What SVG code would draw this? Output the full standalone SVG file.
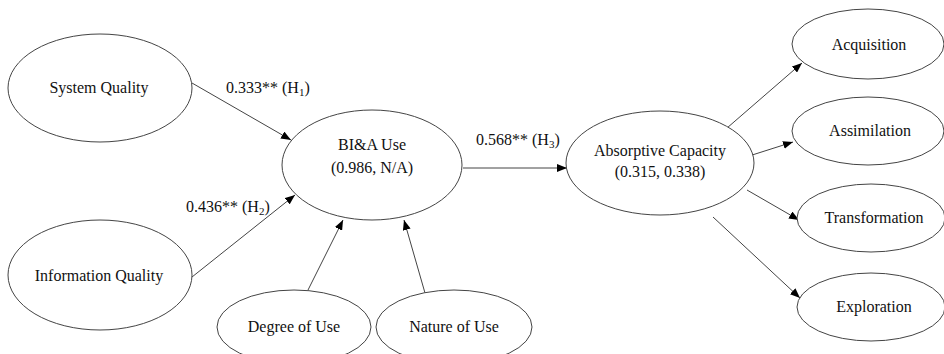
<svg xmlns="http://www.w3.org/2000/svg" width="944" height="354" viewBox="0 0 944 354">
<style>
.n ellipse{fill:#fff;stroke:#444;stroke-width:1}
text{font-family:'Times New Roman','Liberation Serif','Noto Serif','DejaVu Serif',serif;font-size:16px;fill:#111;text-anchor:middle}
.lbl{text-anchor:start}
.sub{font-size:11px}
#edges line{stroke:#444;stroke-width:1;marker-end:url(#ah)}
</style>
<defs>
<marker id="ah" viewBox="0 0 10 8" refX="10" refY="4" markerWidth="10" markerHeight="8" markerUnits="userSpaceOnUse" orient="auto">
<path d="M0,0 L10,4 L0,8 Z" fill="#000"/>
</marker>
</defs>
<rect width="944" height="354" fill="#fff"/>
<g id="edges">
<line x1="192" y1="83" x2="291" y2="140"/>
<line x1="192" y1="277" x2="295" y2="195"/>
<line x1="308" y1="290" x2="343" y2="220"/>
<line x1="425" y1="293" x2="404" y2="220"/>
<line x1="463" y1="168" x2="567" y2="168"/>
<line x1="727" y1="128" x2="802" y2="63"/>
<line x1="749" y1="156" x2="793" y2="142"/>
<line x1="747" y1="190" x2="799" y2="220"/>
<line x1="713" y1="217" x2="800" y2="298"/>
</g>
<g id="labels">
<text class="lbl" x="226" y="93">0.333** (H<tspan class="sub" dy="3">1</tspan><tspan dy="-3">)</tspan></text>
<text class="lbl" x="186" y="212">0.436** (H<tspan class="sub" dy="3">2</tspan><tspan dy="-3">)</tspan></text>
<text class="lbl" x="476" y="145">0.568** (H<tspan class="sub" dy="3">3</tspan><tspan dy="-3">)</tspan></text>
</g>
<g id="system-quality" class="n"><ellipse cx="100" cy="88" rx="92" ry="54"/><text x="99" y="93">System Quality</text></g>
<g id="information-quality" class="n"><ellipse cx="100" cy="275" rx="92" ry="55"/><text x="99" y="281">Information Quality</text></g>
<g id="bia-use" class="n"><ellipse cx="372" cy="165" rx="90" ry="55"/><text x="372" y="150">BI&amp;A Use</text><text x="372" y="173">(0.986, N/A)</text></g>
<g id="degree-of-use" class="n"><ellipse cx="294" cy="327" rx="77" ry="37"/><text x="294" y="332">Degree of Use</text></g>
<g id="nature-of-use" class="n"><ellipse cx="454" cy="327" rx="78" ry="37"/><text x="454" y="332">Nature of Use</text></g>
<g id="absorptive-capacity" class="n"><ellipse cx="660" cy="163" rx="94" ry="52"/><text x="660" y="156">Absorptive Capacity</text><text x="660" y="177">(0.315, 0.338)</text></g>
<g id="acquisition" class="n"><ellipse cx="868" cy="44" rx="76" ry="35"/><text x="869" y="50">Acquisition</text></g>
<g id="assimilation" class="n"><ellipse cx="868" cy="131" rx="76" ry="34"/><text x="870" y="136">Assimilation</text></g>
<g id="transformation" class="n"><ellipse cx="871" cy="218" rx="74" ry="34"/><text x="874" y="223">Transformation</text></g>
<g id="exploration" class="n"><ellipse cx="871" cy="307" rx="74" ry="34"/><text x="874" y="312">Exploration</text></g>
</svg>
